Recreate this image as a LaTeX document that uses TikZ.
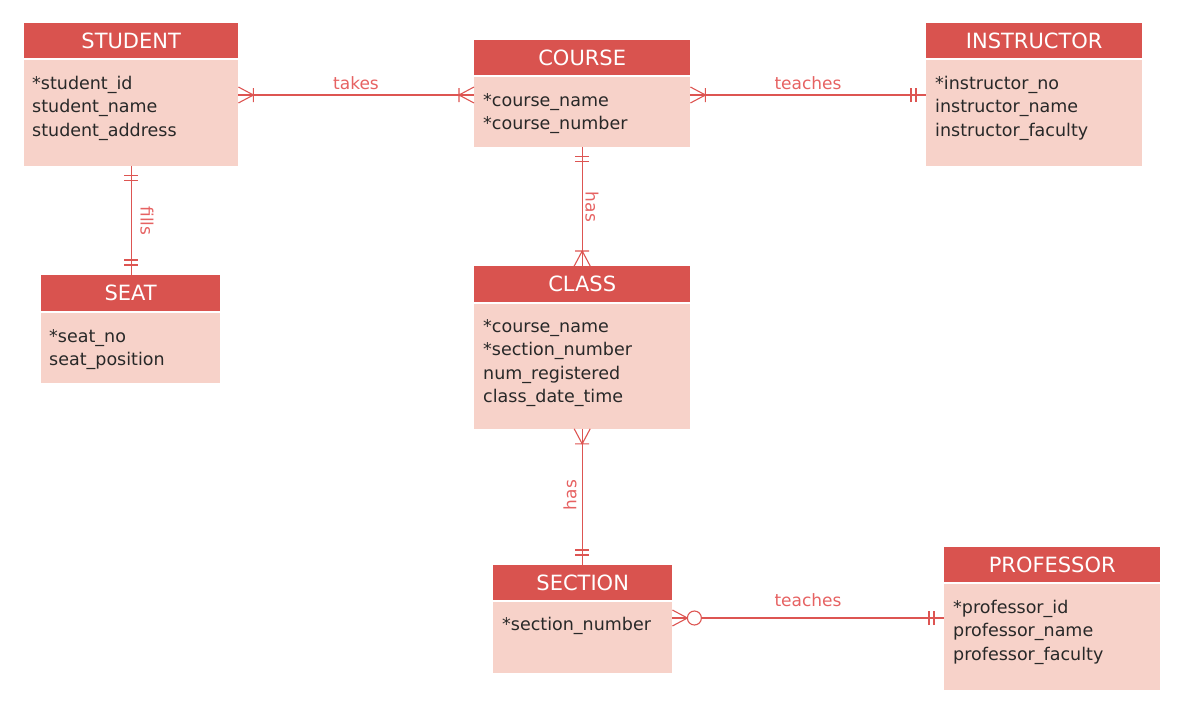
\documentclass[tikz,border=0pt]{standalone}
\usepackage{fontspec}
\setmainfont{DejaVu Sans}
\usetikzlibrary{positioning}
\definecolor{headred}{RGB}{217,83,79}
\definecolor{bodypink}{RGB}{247,210,201}
\definecolor{relred}{RGB}{221,85,82}
\definecolor{lblred}{RGB}{230,98,98}
\definecolor{attrgray}{RGB}{40,40,40}
\tikzset{
  ehead/.style={fill=headred, text=white, inner sep=0pt, minimum height=35pt,
    font=\fontsize{21}{24}\selectfont},
  ebody/.style={fill=bodypink, inner sep=0pt, below=1pt of #1},
  % anchored at the baseline of the last line
  attr/.style={anchor=base west, inner sep=0pt, align=left, text=attrgray,
    font=\fontsize{17.5}{23.5}\selectfont},
  rel/.style={draw=relred, line width=1.1pt},
  lbl/.style={text=lblred, inner sep=0pt, font=\fontsize{17}{20}\selectfont},
  many/.pic={\draw[rel] (0,-8) -- (15,0) -- (0,8) (15,-7) -- (15,7);},
  one/.pic={\draw[rel] (10,-7) -- (10,7) (15,-7) -- (15,7);},
  zeromany/.pic={\draw[rel] (0,-8) -- (15,0) -- (0,8); \draw[rel,fill=white] (22,0) circle (7);}
}
\begin{document}
\begin{tikzpicture}[x=1pt,y=-1pt]
  \useasboundingbox (0,0) rectangle (1183,713);

  % entities
  \node[ehead, minimum width=214, anchor=north west] (student) at (24,23) {STUDENT};
  \node[ebody=student, minimum width=214, minimum height=106] (studentbody) {};
  \node[attr] (studentattr) at ([shift={(8,77)}]studentbody.north west)
    {*student\_id\\student\_name\\student\_address};

  \node[ehead, minimum width=216, anchor=north west] (course) at (474,40) {COURSE};
  \node[ebody=course, minimum width=216, minimum height=70] (coursebody) {};
  \node[attr] (courseattr) at ([shift={(9,53.5)}]coursebody.north west)
    {*course\_name\\*course\_number};

  \node[ehead, minimum width=216, anchor=north west] (instructor) at (926,23) {INSTRUCTOR};
  \node[ebody=instructor, minimum width=216, minimum height=106] (instructorbody) {};
  \node[attr] (instructorattr) at ([shift={(9,77)}]instructorbody.north west)
    {*instructor\_no\\instructor\_name\\instructor\_faculty};

  \node[ehead, minimum width=179, minimum height=36, anchor=north west] (seat) at (41,275) {SEAT};
  \node[ebody=seat, minimum width=179, minimum height=70] (seatbody) {};
  \node[attr] (seatattr) at ([shift={(8,53.5)}]seatbody.north west)
    {*seat\_no\\seat\_position};

  \node[ehead, minimum width=216, minimum height=36, anchor=north west] (class) at (474,266) {CLASS};
  \node[ebody=class, minimum width=216, minimum height=125] (classbody) {};
  \node[attr] (classattr) at ([shift={(9,99.5)}]classbody.north west)
    {*course\_name\\*section\_number\\num\_registered\\class\_date\_time};

  \node[ehead, minimum width=179, anchor=north west] (section) at (493,565) {SECTION};
  \node[ebody=section, minimum width=179, minimum height=71] (sectionbody) {};
  \node[attr] (sectionattr) at ([shift={(9,29)}]sectionbody.north west)
    {*section\_number};

  \node[ehead, minimum width=216, anchor=north west] (professor) at (944,547) {PROFESSOR};
  \node[ebody=professor, minimum width=216, minimum height=106] (professorbody) {};
  \node[attr] (professorattr) at ([shift={(9,77)}]professorbody.north west)
    {*professor\_id\\professor\_name\\professor\_faculty};

  % relationships
  \draw[rel] (studentbody.east |- 0,95) -- (coursebody.west |- 0,95);
  \pic at (studentbody.east |- 0,95) {many};
  \pic[rotate=180] at (coursebody.west |- 0,95) {many};
  \node[lbl] (takes) at (356,83) {takes};

  \draw[rel] (coursebody.east |- 0,95) -- (instructorbody.west |- 0,95);
  \pic at (coursebody.east |- 0,95) {many};
  \pic[rotate=180] at (instructorbody.west |- 0,95) {one};
  \node[lbl] (teachesa) at (808,83) {teaches};

  \draw[rel] (studentbody.south) -- (studentbody.south |- seat.north);
  \pic[rotate=-90] at (studentbody.south) {one};
  \pic[rotate=90] at (studentbody.south |- seat.north) {one};
  \node[lbl, rotate=-90] (fills) at (147,221) {fills};

  \draw[rel] (coursebody.south) -- (class.north);
  \pic[rotate=-90] at (coursebody.south) {one};
  \pic[rotate=90] at (class.north) {many};
  \node[lbl, rotate=-90] (hasa) at (592,207) {has};

  \draw[rel] (classbody.south) -- (classbody.south |- section.north);
  \pic[rotate=-90] at (classbody.south) {many};
  \pic[rotate=90] at (classbody.south |- section.north) {one};
  \node[lbl, rotate=90] (hasb) at (570,495) {has};

  \draw[rel] (sectionbody.east |- 0,618) -- (professorbody.west |- 0,618);
  \pic at (sectionbody.east |- 0,618) {zeromany};
  \pic[rotate=180] at (professorbody.west |- 0,618) {one};
  \node[lbl] (teachesb) at (808,600) {teaches};
\end{tikzpicture}
\end{document}
